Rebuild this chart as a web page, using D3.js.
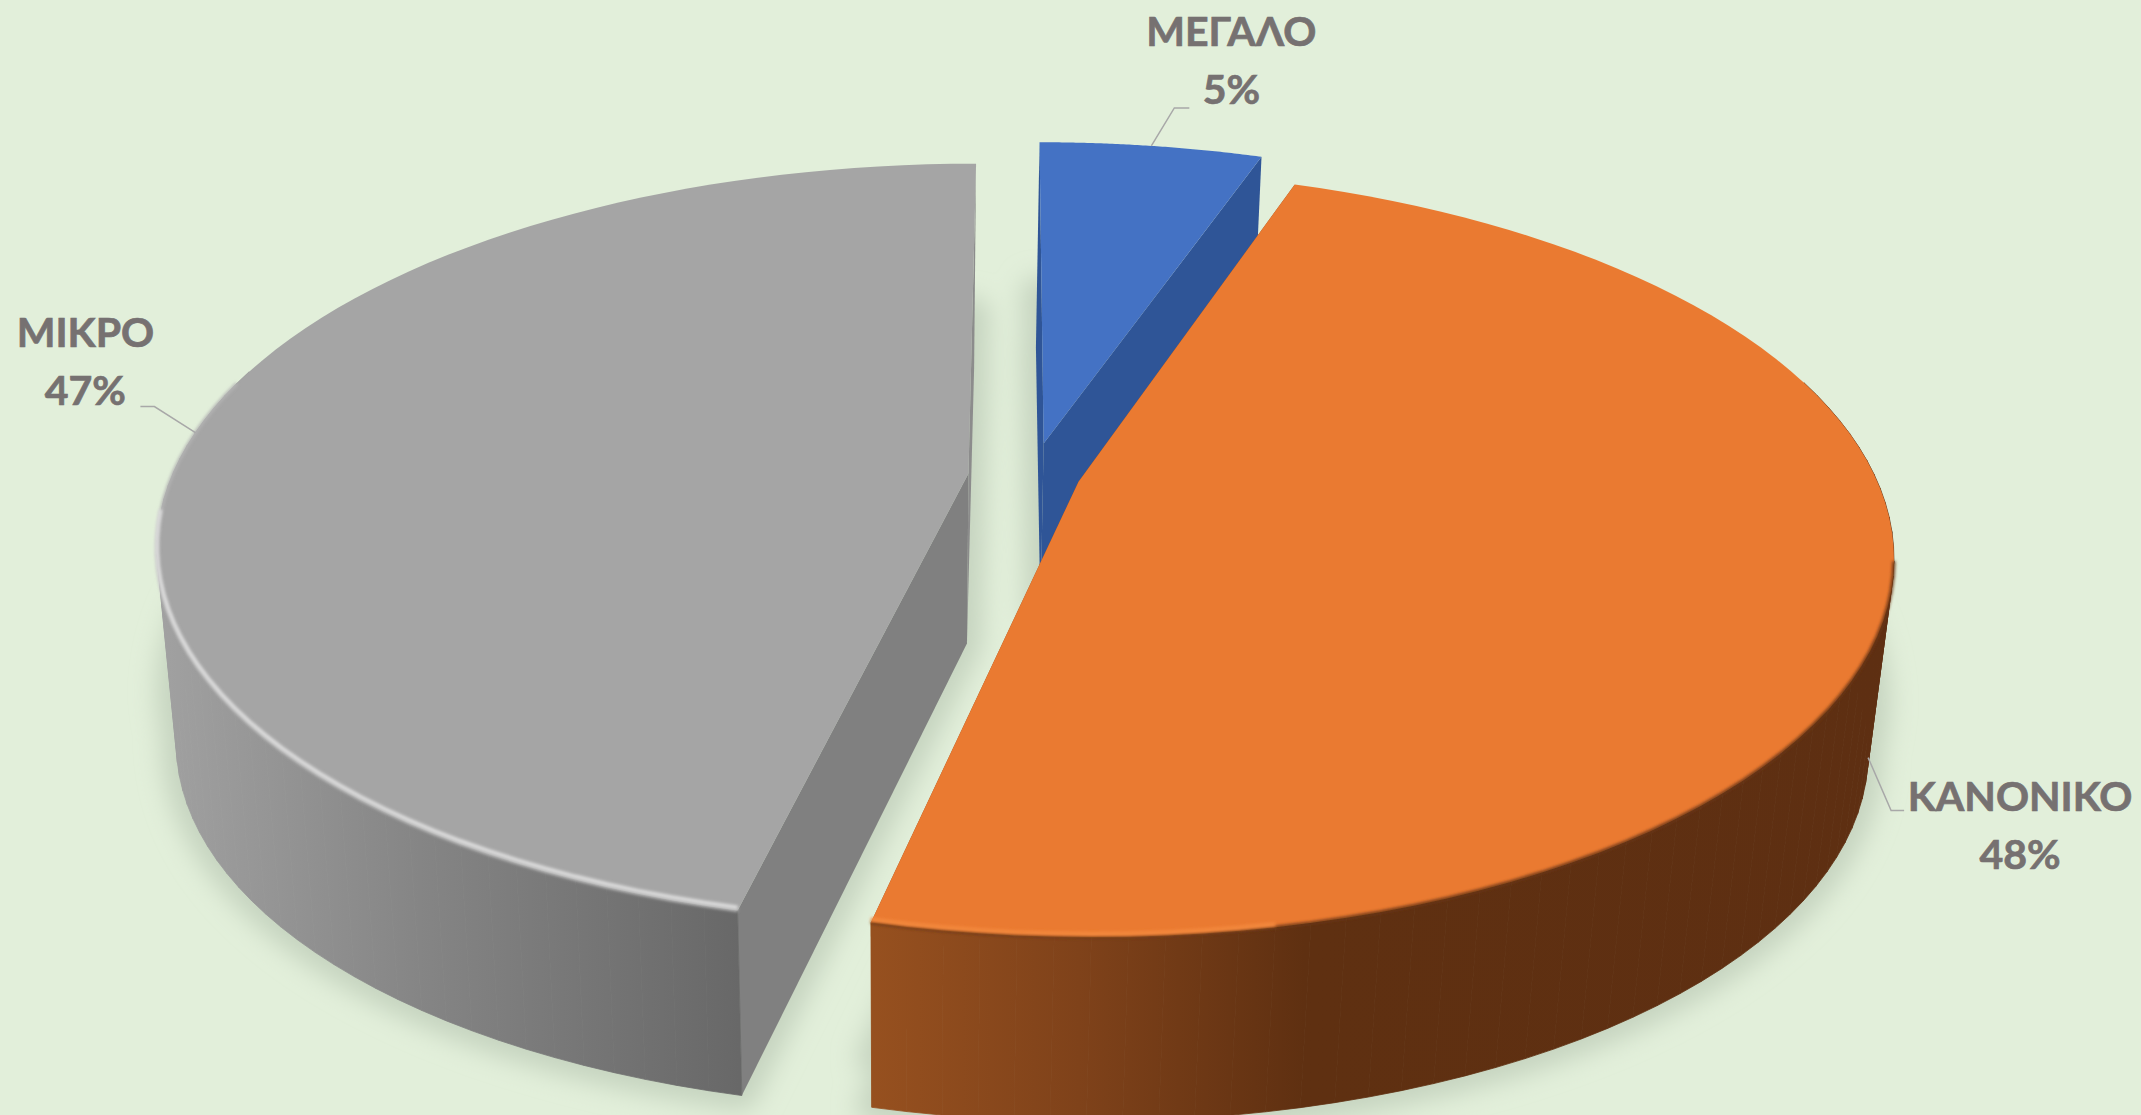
<!DOCTYPE html>
<html>
<head>
<meta charset="utf-8">
<script src="https://cdn.jsdelivr.net/npm/d3@7"></script>
<style>
html, body { margin: 0; padding: 0; background: #e2efda; overflow: hidden; }
svg { display: block; }
text { font-family: Lato, "Open Sans", sans-serif; font-weight: 700; fill: #767171; stroke: #767171; stroke-width: 0.7px; font-size: 41px; text-anchor: middle; }
</style>
</head>
<body>
<div id="chart"></div>
<script>
// chart data
var categories = ["ΜΕΓΑΛΟ", "ΚΑΝΟΝΙΚΟ", "ΜΙΚΡΟ"];
var shares = [5.4, 48.4, 46.5];

// colours per slice
var topColors = ["#4472c4", "#ea7a31", "#a5a5a5"];
var faceColors = ["#2f5597", "#8f4a1c", "#808080"];
var edgeColors = ["#4472c4", "#6b3614", "#b4b4b4"];
var rimColors = ["#4472c4", "#f58a3e", "#dcdcdc"];

// how far each slice is pulled out of the pie (plane units)
var explodeX = [0.034, 0.077, -0.061];
var explodeY = [-0.065, 0.04, 0.018];

// label placement relative to where the leader line ends
var leaderShift = [0, -4, 0];
var leaderDx = [[23, -38], [23, 53], [-41, -26]];
var leaderTail = [15, 13, -14];
var labelDx = [42, 116, -55];
var labelDy = [-62, 0, -60];

var width = 2141, height = 1115;

// perspective of the pie plane
var cx = 1017, cy = 467, fx = 793, fy = 365, persp = 0.185;
var vanishX = 901, vanishY = 8029;
var rimDepth = 0.026, apexDepth = 0.0225, shadowLift = 0.019;

var svg = d3.select("#chart").append("svg").attr("width", width).attr("height", height);
var defs = svg.append("defs");

defs.append("filter").attr("id", "shadowBlur")
	.attr("filterUnits", "userSpaceOnUse")
	.attr("x", 0).attr("y", 0).attr("width", width).attr("height", height)
	.append("feGaussianBlur").attr("stdDeviation", 12);
defs.append("filter").attr("id", "edgeBlur")
	.attr("filterUnits", "userSpaceOnUse")
	.attr("x", 0).attr("y", 0).attr("width", width).attr("height", height)
	.append("feGaussianBlur").attr("stdDeviation", 1.4);

// wall gradients, left to right
function wallGradient(id, x1, x2, stops) {
	var g = defs.append("linearGradient").attr("id", id)
		.attr("gradientUnits", "userSpaceOnUse")
		.attr("x1", x1).attr("x2", x2).attr("y1", 0).attr("y2", 0);
	stops.forEach(function(s) {
		g.append("stop").attr("offset", s[0]).attr("stop-color", s[1]);
	});
}
wallGradient("wall0", 1040, 1270, [[0, "#2f5597"], [1, "#2f5597"]]);
wallGradient("wall1", 874, 1900, [[0, "#96501f"], [0.2, "#7f421a"], [0.42, "#5f3011"], [1, "#5e2f12"]]);
wallGradient("wall2", 150, 750, [[0, "#a2a2a2"], [0.45, "#858585"], [1, "#676767"]]);

var pie = d3.pie().sort(null);
var slices = pie(shares);

// plane coords -> screen
function project(u, v) {
	var w = 1 - persp * v;
	return [cx + fx * u / w, cy + fy * v / w];
}
function rimPoint(i, a) {
	return project(Math.sin(a) + explodeX[i], -Math.cos(a) + explodeY[i]);
}
function apexPoint(i) {
	return project(explodeX[i], explodeY[i]);
}
function drop(p, k) {
	return [p[0] + (vanishX - p[0]) * k, p[1] + (vanishY - p[1]) * k];
}
function rimPoints(i, a0, a1) {
	return d3.range(0, 81).map(function(n) {
		return rimPoint(i, a0 + (a1 - a0) * n / 80);
	});
}
var line = d3.line();
function polygon(pts) { return line(pts) + "Z"; }

// shadow under the pie
var shadow = svg.append("g").attr("filter", "url(#shadowBlur)");
slices.forEach(function(d, i) {
	var rim = rimPoints(i, d.startAngle, d.endAngle);
	[rimDepth, shadowLift].forEach(function(k) {
		var foot = [drop(apexPoint(i), Math.min(k, apexDepth))].concat(rim.map(function(p) { return drop(p, k); }));
		shadow.append("path").attr("d", polygon(foot))
			.attr("fill", "#c6d4c0").attr("stroke", "#c6d4c0").attr("stroke-width", 30)
			.attr("stroke-linejoin", "round");
	});
});

// back to front: grey, blue, orange
[2, 0, 1].forEach(function(i) {
	var d = slices[i];
	var g = svg.append("g").attr("class", "slice");
	var rim = rimPoints(i, d.startAngle, d.endAngle);
	var apex = apexPoint(i);
	var apexLow = drop(apex, apexDepth);

	// radial faces
	[rim[0], rim[rim.length - 1]].forEach(function(edge, k) {
		g.append("path")
			.attr("d", polygon([edge, apex, apexLow, drop(edge, rimDepth)]))
			.attr("fill", (i == 2 && k == 1) ? "#8c8c8c" : faceColors[i]);
	});

	// outer wall, near side only, one quad per rim step so the silhouette stays straight
	var nearRim = rim.filter(function(p, n) {
		var a = d.startAngle + (d.endAngle - d.startAngle) * n / 80;
		return -Math.cos(a) > -0.3;
	});
	g.selectAll("path.wall").data(d3.pairs(nearRim)).join("path")
		.attr("class", "wall")
		.attr("d", function(s) {
			return polygon([s[0], s[1], drop(s[1], rimDepth), drop(s[0], rimDepth)]);
		})
		.attr("fill", "url(#wall" + i + ")")
		.attr("stroke", "url(#wall" + i + ")")
		.attr("stroke-width", 0.8);

	// lid
	g.append("path").attr("d", polygon([apex].concat(rim))).attr("fill", topColors[i]);

	// soft bevel along the near edge of the lid
	if (i != 0) {
		var front = rim.filter(function(p, n) {
			var a = d.startAngle + (d.endAngle - d.startAngle) * n / 80;
			return i == 2 ? a < 285 * Math.PI / 180 : a > 100 * Math.PI / 180;
		});
		g.append("path").attr("d", line(front)).attr("fill", "none")
			.attr("stroke", edgeColors[i]).attr("stroke-width", 3).attr("filter", "url(#edgeBlur)");
		var glow = rim.filter(function(p, n) {
			var a = d.startAngle + (d.endAngle - d.startAngle) * n / 80;
			return i == 2 ? a < 265 * Math.PI / 180 : a > 168 * Math.PI / 180;
		});
		g.append("path").attr("d", line(glow.map(function(p) { return [p[0], p[1] - 3]; }))).attr("fill", "none")
			.attr("stroke", rimColors[i]).attr("stroke-width", 4).attr("filter", "url(#edgeBlur)");
	}
});

// labels + leader lines
slices.forEach(function(d, i) {
	var mid = (d.startAngle + d.endAngle) / 2 + leaderShift[i] * Math.PI / 180;
	var start = rimPoint(i, mid);
	if (i == 1) start = drop(start, rimDepth);
	var elbow = [start[0] + leaderDx[i][0], start[1] + leaderDx[i][1]];
	var end = [elbow[0] + leaderTail[i], elbow[1]];
	svg.append("path").attr("d", line([start, elbow, end]))
		.attr("fill", "none").attr("stroke", "#a8a8a8").attr("stroke-width", 1.5);

	var lx = end[0] + labelDx[i], ly = end[1] + labelDy[i];
	svg.append("text").attr("x", lx).attr("y", ly).text(categories[i]);
	svg.append("text").attr("x", lx).attr("y", ly + 58).text(Math.round(d.data) + "%");
});
</script>
</body>
</html>
